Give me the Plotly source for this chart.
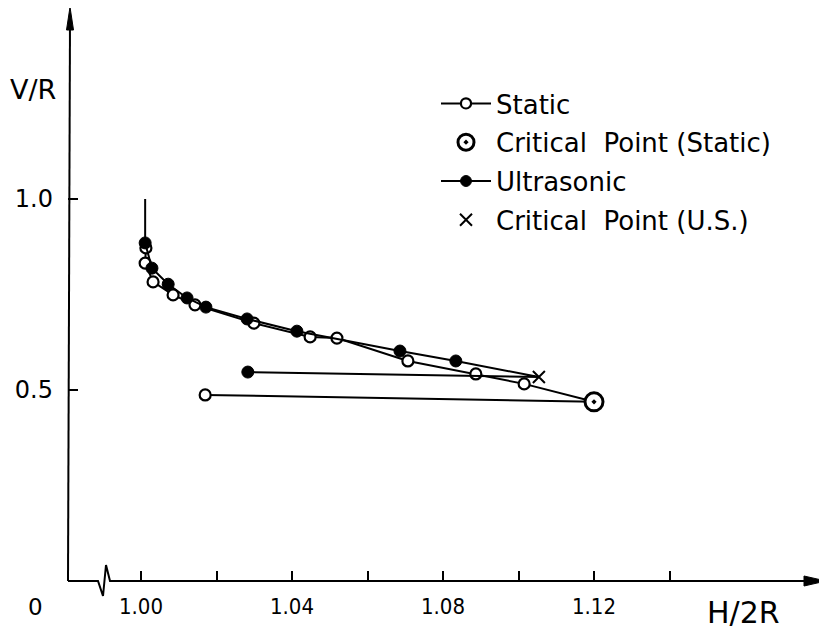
import plotly.graph_objects as go

# ---------------- data ----------------
static_x = [1.0013, 1.0011, 1.0032, 1.0085, 1.0143, 1.0299, 1.0448, 1.0519, 1.0707, 1.0887, 1.1015]
static_y = [0.872, 0.832, 0.783, 0.749, 0.723, 0.675, 0.639, 0.636, 0.576, 0.542, 0.516]
static_crit = (1.1200, 0.469)
static_return = (1.0170, 0.487)

us_x = [1.0011, 1.0029, 1.0072, 1.0122, 1.0172, 1.0281, 1.0413, 1.0686, 1.0834]
us_y = [0.885, 0.819, 0.777, 0.741, 0.717, 0.686, 0.654, 0.602, 0.576]
us_crit = (1.1054, 0.534)
us_return = (1.0283, 0.547)

start_x = [1.0011, 1.0011]
start_y = [1.0, 0.885]

x_tickvals = [1.00, 1.02, 1.04, 1.06, 1.08, 1.10, 1.12, 1.14]
x_ticktext = ["1.00", "", "1.04", "", "1.08", "", "1.12", ""]
y_tickvals = [0.5, 1.0]
y_ticktext = ["0.5", "1.0"]

# ---------------- geometry ----------------
# page body has an 8px margin, so the figure is 8px smaller than the window
OFF = 8
W, H = 827 - OFF, 631 - OFF
X0, X1 = 68, 825      # plot area in window pixels
Y0, Y1 = 8, 581
L, R = X0 - OFF, (W + OFF) - X1
T, B = Y0 - OFF, (H + OFF) - Y1


def px(x):
    return (x - X0) / (X1 - X0)


def py(y):
    return (Y1 - y) / (Y1 - Y0)


fig = go.Figure()

# initial vertical segment
fig.add_trace(go.Scatter(x=start_x, y=start_y, mode="lines",
                         line=dict(color="black", width=2), showlegend=False,
                         hoverinfo="skip"))

# static path
sx = static_x + [static_crit[0], static_return[0]]
sy = static_y + [static_crit[1], static_return[1]]
ssize = [11] * len(static_x) + [0, 11]
fig.add_trace(go.Scatter(
    x=sx, y=sy, mode="lines+markers", name="Static", legendgroup="a", legendrank=1,
    line=dict(color="black", width=2),
    marker=dict(symbol="circle", size=ssize, color="white", opacity=1,
                line=dict(color="black", width=2.2))))

# critical point (static)
fig.add_trace(go.Scatter(
    x=[static_crit[0]], y=[static_crit[1]], mode="markers",
    name="Critical  Point (Static)", legendgroup="b", legendrank=2,
    marker=dict(symbol="circle-dot", size=18, color="white", opacity=1,
                line=dict(color="black", width=3))))

# ultrasonic path
ux = us_x + [us_crit[0], us_return[0]]
uy = us_y + [us_crit[1], us_return[1]]
usize = [12] * len(us_x) + [0, 12]
fig.add_trace(go.Scatter(
    x=ux, y=uy, mode="lines+markers", name="Ultrasonic", legendgroup="c", legendrank=3,
    line=dict(color="black", width=2),
    marker=dict(symbol="circle", size=usize, color="black", opacity=1,
                line=dict(color="black", width=1))))

# critical point (U.S.)
fig.add_trace(go.Scatter(
    x=[us_crit[0]], y=[us_crit[1]], mode="markers",
    name="Critical  Point (U.S.)", legendgroup="d", legendrank=4,
    marker=dict(symbol="x-thin", size=12, color="black", opacity=1,
                line=dict(color="black", width=2))))

# ---------------- axes drawn as shapes ----------------
shapes = []
line_style = dict(color="black", width=2)
shapes.append(dict(type="line", xref="paper", yref="paper",
                   x0=px(68), y0=py(581), x1=px(70), y1=py(22), line=line_style))
shapes.append(dict(type="path", xref="paper", yref="paper",
                   path=f"M{px(70)},{py(7)} L{px(66.5)},{py(30)} L{px(73.5)},{py(30)} Z",
                   fillcolor="black", line=dict(color="black", width=1)))
shapes.append(dict(type="path", xref="paper", yref="paper",
                   path=(f"M{px(68)},{py(581)} L{px(98)},{py(581)} L{px(103)},{py(596)} "
                         f"L{px(106)},{py(565)} L{px(110)},{py(581)} L{px(808)},{py(581)}"),
                   line=line_style))
shapes.append(dict(type="path", xref="paper", yref="paper",
                   path=f"M{px(826)},{py(581)} L{px(804)},{py(576)} L{px(804)},{py(586)} Z",
                   fillcolor="black", line=dict(color="black", width=1)))

annotations = [
    dict(text="0", xref="paper", yref="paper", x=px(35), y=py(607),
         xanchor="center", yanchor="middle",
         showarrow=False, font=dict(family="DejaVu Sans", size=23, color="black")),
    dict(text="H/2R", xref="paper", yref="paper", x=px(743), y=py(612),
         xanchor="center", yanchor="middle",
         showarrow=False, font=dict(family="DejaVu Sans", size=30, color="black")),
    dict(text="V/R", xref="paper", yref="paper", x=px(33), y=py(90),
         xanchor="center", yanchor="middle",
         showarrow=False, font=dict(family="DejaVu Sans", size=27, color="black")),
]

fig.update_layout(
    width=W, height=H,
    margin=dict(l=L, r=R, t=T, b=B, pad=0),
    paper_bgcolor="white", plot_bgcolor="white",
    showlegend=True,
    legend=dict(x=px(436), y=py(80), xanchor="left", yanchor="top",
                font=dict(family="DejaVu Sans", size=26, color="black"),
                bgcolor="rgba(0,0,0,0)", tracegroupgap=2, itemwidth=50,
                traceorder="grouped"),
    shapes=shapes,
    annotations=annotations,
    xaxis=dict(range=[1 + (X0 - 141) / 3775, 1 + (X1 - 141) / 3775],
               showgrid=False, zeroline=False, showline=False,
               tickmode="array", tickvals=x_tickvals, ticktext=x_ticktext,
               ticks="inside", ticklen=10, tickwidth=1.5, tickcolor="black",
               ticklabelstandoff=10,
               tickfont=dict(family="DejaVu Sans Condensed", size=22, color="black")),
    yaxis=dict(range=[0, (Y1 - Y0) / 382],
               showgrid=False, zeroline=False, showline=False,
               tickmode="array", tickvals=y_tickvals, ticktext=y_ticktext,
               ticks="inside", ticklen=10, tickwidth=1.5, tickcolor="black",
               ticklabelstandoff=14,
               tickfont=dict(family="DejaVu Sans", size=24, color="black")),
)

fig.write_html("out.html")
